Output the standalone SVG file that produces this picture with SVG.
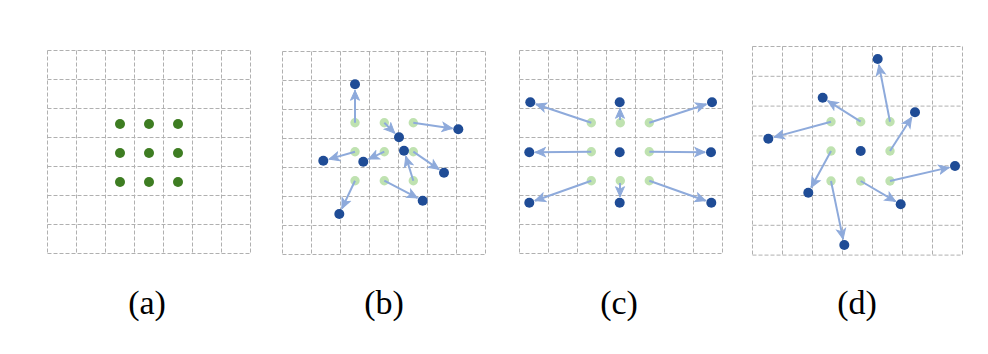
<svg xmlns="http://www.w3.org/2000/svg" width="988" height="354" viewBox="0 0 988 354">
<defs>
<style>
.grid{fill:none;stroke:#b0b0b0;stroke-width:1;stroke-dasharray:4 2}
.dg{fill:#3e7d22}
.lg{fill:#bfe2b0}
.bl{fill:#1f4c96}
.ar{fill:none;stroke:#8eaadb;stroke-width:2;marker-end:url(#ah)}
.lbl{font-family:"Liberation Serif","Times New Roman",serif;font-size:34px;fill:#000;text-anchor:middle}
</style>
<marker id="ah" viewBox="0 0 12 12" refX="11" refY="6" markerWidth="12" markerHeight="12" markerUnits="userSpaceOnUse" orient="auto">
<path d="M1,1.5 L11,6 L1,10.5 L3.5,6 Z" fill="#8eaadb" stroke="#8eaadb" stroke-width="1" stroke-linejoin="miter"/>
</marker>
</defs>
<rect width="988" height="354" fill="#fff"/>

<g id="panel-a">
<path class="grid" d="M47.5,50.5V253.5M76.5,50.5V253.5M105.5,50.5V253.5M134.5,50.5V253.5M163.5,50.5V253.5M192.5,50.5V253.5M221.5,50.5V253.5M250.5,50.5V253.5M47.5,50.5H250.5M47.5,79.5H250.5M47.5,108.5H250.5M47.5,137.5H250.5M47.5,166.5H250.5M47.5,195.5H250.5M47.5,224.5H250.5M47.5,253.5H250.5"/>
<g id="a-dots">
<circle class="dg" cx="120" cy="124" r="5"/><circle class="dg" cx="149" cy="124" r="5"/><circle class="dg" cx="178" cy="124" r="5"/>
<circle class="dg" cx="120" cy="153" r="5"/><circle class="dg" cx="149" cy="153" r="5"/><circle class="dg" cx="178" cy="153" r="5"/>
<circle class="dg" cx="120" cy="182" r="5"/><circle class="dg" cx="149" cy="182" r="5"/><circle class="dg" cx="178" cy="182" r="5"/>
</g>
<text class="lbl" x="147" y="314">(a)</text>
</g>

<g id="panel-b">
<path class="grid" d="M282.5,51.5V254.5M311.5,51.5V254.5M340.5,51.5V254.5M369.5,51.5V254.5M398.5,51.5V254.5M427.5,51.5V254.5M456.5,51.5V254.5M485.5,51.5V254.5M282.5,51.5H485.5M282.5,80.5H485.5M282.5,109.5H485.5M282.5,138.5H485.5M282.5,167.5H485.5M282.5,196.5H485.5M282.5,225.5H485.5M282.5,254.5H485.5"/>
<g id="b-sampling">
<circle class="lg" cx="355" cy="122.7" r="4.7"/><circle class="lg" cx="384.3" cy="122.7" r="4.7"/><circle class="lg" cx="413.3" cy="122.7" r="4.7"/>
<circle class="lg" cx="355" cy="151.7" r="4.7"/><circle class="lg" cx="384.3" cy="151.7" r="4.7"/><circle class="lg" cx="413.3" cy="151.7" r="4.7"/>
<circle class="lg" cx="355" cy="180.7" r="4.7"/><circle class="lg" cx="384.3" cy="180.7" r="4.7"/><circle class="lg" cx="413.3" cy="180.7" r="4.7"/>
</g>
<g id="b-connectors">
<line class="ar" x1="355" y1="122.7" x2="355" y2="90.3"/>
<line class="ar" x1="384.3" y1="122.7" x2="394.7" y2="133.1"/>
<line class="ar" x1="413.3" y1="122.7" x2="452.4" y2="128.4"/>
<line class="ar" x1="355" y1="151.7" x2="329.1" y2="159.1"/>
<line class="ar" x1="384.3" y1="151.7" x2="368.7" y2="159.1"/>
<line class="ar" x1="413.3" y1="151.7" x2="439" y2="169.3"/>
<line class="ar" x1="355" y1="180.7" x2="341.9" y2="208.6"/>
<line class="ar" x1="384.3" y1="180.7" x2="417.4" y2="197.9"/>
<line class="ar" x1="413.3" y1="180.7" x2="405.8" y2="156.4"/>
</g>
<g id="b-offsets">
<circle class="bl" cx="355" cy="84.3" r="5"/>
<circle class="bl" cx="399" cy="137.3" r="5"/>
<circle class="bl" cx="458.3" cy="129.3" r="5"/>
<circle class="bl" cx="323.3" cy="160.7" r="5"/>
<circle class="bl" cx="363.3" cy="161.7" r="5"/>
<circle class="bl" cx="404" cy="150.7" r="5"/>
<circle class="bl" cx="444" cy="172.7" r="5"/>
<circle class="bl" cx="339.3" cy="214" r="5"/>
<circle class="bl" cx="422.7" cy="200.7" r="5"/>
</g>
<text class="lbl" x="384" y="314">(b)</text>
</g>

<g id="panel-c">
<path class="grid" d="M519.5,50.5V253.5M548.5,50.5V253.5M577.5,50.5V253.5M606.5,50.5V253.5M635.5,50.5V253.5M664.5,50.5V253.5M693.5,50.5V253.5M722.5,50.5V253.5M519.5,50.5H722.5M519.5,79.5H722.5M519.5,108.5H722.5M519.5,137.5H722.5M519.5,166.5H722.5M519.5,195.5H722.5M519.5,224.5H722.5M519.5,253.5H722.5"/>
<g id="c-sampling">
<circle class="lg" cx="591.3" cy="122.7" r="4.7"/><circle class="lg" cx="620.3" cy="122.7" r="4.7"/><circle class="lg" cx="649.3" cy="122.7" r="4.7"/>
<circle class="lg" cx="591.3" cy="151.7" r="4.7"/><circle class="lg" cx="649.3" cy="151.7" r="4.7"/>
<circle class="lg" cx="591.3" cy="180.7" r="4.7"/><circle class="lg" cx="620.3" cy="180.7" r="4.7"/><circle class="lg" cx="649.3" cy="180.7" r="4.7"/>
</g>
<g id="c-connectors">
<line class="ar" x1="591.3" y1="122.7" x2="536" y2="104.2"/>
<line class="ar" x1="620" y1="120" x2="620" y2="108.3"/>
<line class="ar" x1="649.3" y1="122.7" x2="706.3" y2="104.2"/>
<line class="ar" x1="591.3" y1="151.7" x2="535.3" y2="152.2"/>
<line class="ar" x1="649.3" y1="151.7" x2="705" y2="152.2"/>
<line class="ar" x1="591.3" y1="180.7" x2="535" y2="200.7"/>
<line class="ar" x1="620" y1="183" x2="620" y2="196.7"/>
<line class="ar" x1="649.3" y1="180.7" x2="705.6" y2="200.7"/>
</g>
<g id="c-offsets">
<circle class="bl" cx="530.3" cy="102.3" r="5"/><circle class="bl" cx="619.7" cy="102.3" r="5"/><circle class="bl" cx="712" cy="102.3" r="5"/>
<circle class="bl" cx="529.3" cy="152.3" r="5"/><circle class="bl" cx="619.7" cy="152.3" r="5"/><circle class="bl" cx="711" cy="152.3" r="5"/>
<circle class="bl" cx="529.3" cy="202.7" r="5"/><circle class="bl" cx="619.7" cy="202.7" r="5"/><circle class="bl" cx="711.3" cy="202.7" r="5"/>
</g>
<text class="lbl" x="619" y="314">(c)</text>
</g>

<g id="panel-d">
<path class="grid" d="M752.5,46.5V255.1M782.5,46.5V255.1M812.5,46.5V255.1M842.5,46.5V255.1M872.5,46.5V255.1M902.5,46.5V255.1M932.5,46.5V255.1M962.5,46.5V255.1M752.5,46.5H962.5M752.5,76.3H962.5M752.5,106.1H962.5M752.5,135.9H962.5M752.5,165.7H962.5M752.5,195.5H962.5M752.5,225.3H962.5M752.5,255.1H962.5"/>
<g id="d-sampling">
<circle class="lg" cx="831" cy="121.7" r="4.7"/><circle class="lg" cx="860.7" cy="121.7" r="4.7"/><circle class="lg" cx="890" cy="121.7" r="4.7"/>
<circle class="lg" cx="831" cy="151" r="4.7"/><circle class="lg" cx="890" cy="151" r="4.7"/>
<circle class="lg" cx="831" cy="181" r="4.7"/><circle class="lg" cx="860.7" cy="181" r="4.7"/><circle class="lg" cx="890" cy="181" r="4.7"/>
</g>
<g id="d-connectors">
<line class="ar" x1="831" y1="121.7" x2="774.1" y2="137.1"/>
<line class="ar" x1="860.7" y1="121.7" x2="827.8" y2="100.9"/>
<line class="ar" x1="890" y1="121.7" x2="878.9" y2="64.9"/>
<line class="ar" x1="831" y1="151" x2="811.2" y2="187.4"/>
<line class="ar" x1="890" y1="151" x2="911.7" y2="117.3"/>
<line class="ar" x1="831" y1="181" x2="843.1" y2="239.1"/>
<line class="ar" x1="860.7" y1="181" x2="895.5" y2="201.3"/>
<line class="ar" x1="890" y1="181" x2="949.2" y2="167.4"/>
</g>
<g id="d-offsets">
<circle class="bl" cx="877.7" cy="59" r="5"/>
<circle class="bl" cx="822.7" cy="97.7" r="5"/>
<circle class="bl" cx="915" cy="112.3" r="5"/>
<circle class="bl" cx="768.3" cy="138.7" r="5"/>
<circle class="bl" cx="860.7" cy="151" r="5"/>
<circle class="bl" cx="955" cy="166" r="5"/>
<circle class="bl" cx="808.3" cy="192.7" r="5"/>
<circle class="bl" cx="900.7" cy="204.3" r="5"/>
<circle class="bl" cx="844.3" cy="245" r="5"/>
</g>
<text class="lbl" x="857" y="314">(d)</text>
</g>
</svg>
